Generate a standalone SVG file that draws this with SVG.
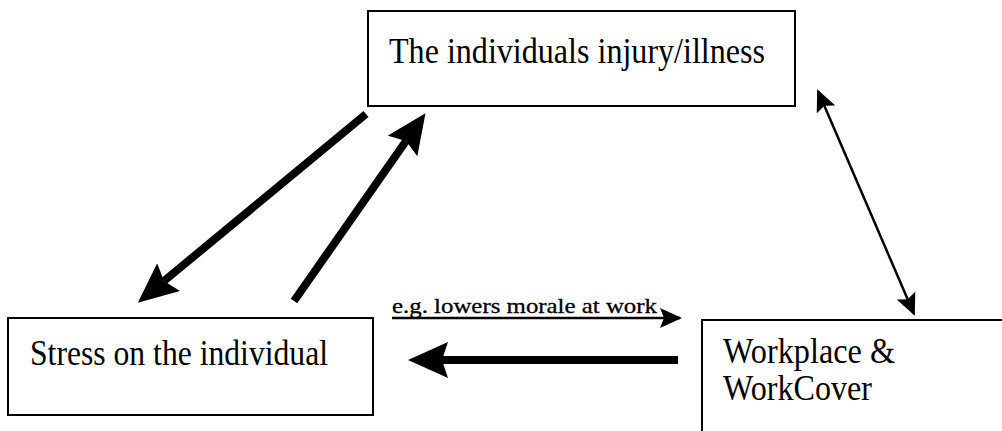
<svg xmlns="http://www.w3.org/2000/svg" width="1002" height="431" viewBox="0 0 1002 431">
<style>
.box{fill:none;stroke:#000;stroke-width:2}
.t{font-family:"Liberation Serif","Times New Roman",serif;font-size:35px;fill:#000}
.lbl{font-family:"Liberation Serif","Times New Roman",serif;font-size:22px;fill:#000;stroke:#000;stroke-width:0.3}
.thick{stroke:#000;stroke-width:8;fill:none}
.thin{stroke:#000;stroke-width:2.5;fill:none}
</style>
<defs>
<marker id="big" markerUnits="userSpaceOnUse" viewBox="0 0 40 36" markerWidth="40" markerHeight="36" refX="6" refY="18" orient="auto">
<path d="M0,0 L40,18 L0,36 L6,18 Z" fill="#000"/>
</marker>
<marker id="small" markerUnits="userSpaceOnUse" viewBox="0 0 22 20" markerWidth="22" markerHeight="20" refX="20" refY="10" orient="auto-start-reverse">
<path d="M0,0 L22,10 L0,20 L4,10 Z" fill="#000"/>
</marker>
</defs>
<g id="node-injury">
<rect class="box" x="368" y="11" width="427" height="95"/>
<text class="t" x="389" y="63" textLength="376" lengthAdjust="spacingAndGlyphs">The individuals injury/illness</text>
</g>
<g id="node-stress">
<rect class="box" x="8" y="318" width="365" height="97"/>
<text class="t" x="30" y="365" textLength="298" lengthAdjust="spacingAndGlyphs">Stress on the individual</text>
</g>
<g id="node-workplace">
<path class="box" d="M702,432 V320 H1003"/>
<text class="t" x="723" y="363" textLength="172" lengthAdjust="spacingAndGlyphs">Workplace &amp;</text>
<text class="t" x="723" y="400" textLength="149" lengthAdjust="spacingAndGlyphs">WorkCover</text>
</g>
<g id="connectors">
<line class="thick" x1="366" y1="114" x2="164" y2="281" marker-end="url(#big)"/>
<line class="thick" x1="294" y1="301" x2="406" y2="141" marker-end="url(#big)"/>
<line class="thick" x1="678" y1="360" x2="442" y2="360" marker-end="url(#big)"/>
<line class="thin" x1="818" y1="91" x2="914" y2="314" marker-start="url(#small)" marker-end="url(#small)"/>
<line class="thin" x1="392" y1="318" x2="680" y2="318" marker-end="url(#small)"/>
<text class="lbl" x="392" y="313" textLength="265" lengthAdjust="spacingAndGlyphs">e.g. lowers morale at work</text>
</g>
</svg>
